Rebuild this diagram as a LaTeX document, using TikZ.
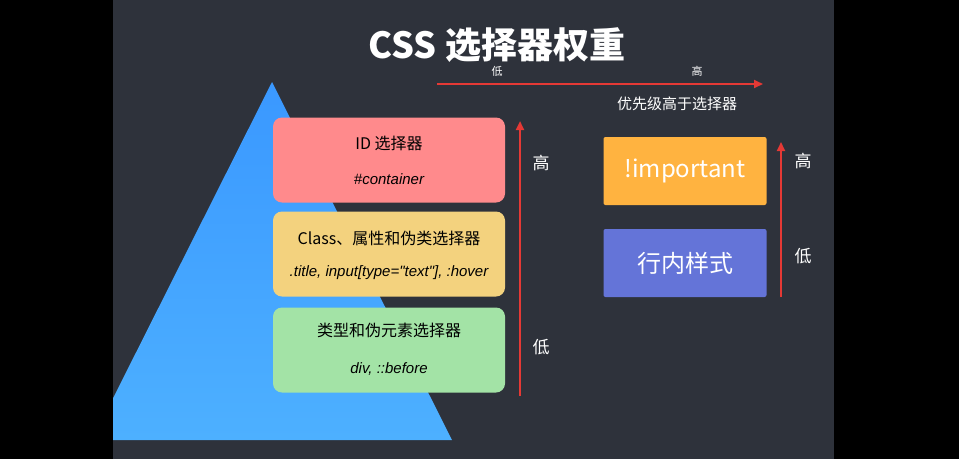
\documentclass[tikz,border=0pt]{standalone}
\usepackage{fontspec}
\setmainfont{Noto Sans CJK SC}
\newfontfamily\latinit{Liberation Sans}
\usetikzlibrary{positioning,arrows.meta}
\definecolor{panelbg}{HTML}{2E323B}
\definecolor{idred}{HTML}{FF8A8C}
\definecolor{clsyellow}{HTML}{F3D27E}
\definecolor{typegreen}{HTML}{A3E3A6}
\definecolor{imporange}{HTML}{FFB340}
\definecolor{inlineblue}{HTML}{6474D8}
\definecolor{arrowred}{HTML}{E53935}
\definecolor{pyrtop}{HTML}{3A98FF}
\definecolor{pyrbot}{HTML}{4DB0FF}
\tikzset{
  selbox/.style={rounded corners=9pt,minimum width=232pt,minimum height=85pt,inner sep=0pt},
  rulebox/.style={rounded corners=2pt,minimum width=163pt,minimum height=68pt,inner sep=0pt,text=white,font=\fontsize{24}{28}\selectfont},
  prio/.style={draw=arrowred,line width=2.2pt,-{Triangle[length=9pt,width=8pt]}},
  lbl/.style={text=white,font=\fontsize{17}{20}\selectfont},
}
\begin{document}
\begin{tikzpicture}[x=1pt,y=-1pt]
\fill[black] (0,0) rectangle (959,459);
\fill[panelbg] (113,0) rectangle (834,459);
% pyramid
\begin{scope}
\clip (113,0) rectangle (834,459);
\shade[top color=pyrtop,bottom color=pyrbot] (272,82) -- (452,440) -- (92,440) -- cycle;
\end{scope}
\node[text=white,font=\bfseries\fontsize{36}{40}\selectfont] (title) at (497,45) {CSS 选择器权重};
% selectors
\node[selbox,fill=idred] (idsel) at (389,160) {};
\node[font=\fontsize{16}{19}\selectfont] at (389,143) {ID 选择器};
\node[font=\latinit\itshape\fontsize{15}{18}\selectfont] at (389,179) {\#container};
\node[selbox,fill=clsyellow] (clssel) at (389,254) {};
\node[font=\fontsize{16}{19}\selectfont] at (389,238) {Class、属性和伪类选择器};
\node[font=\latinit\itshape\fontsize{15}{18}\selectfont] at (389,273) {.title, input[type="text"], :hover};
\node[selbox,fill=typegreen] (typesel) at (389,350) {};
\node[font=\fontsize{16}{19}\selectfont] at (389,330) {类型和伪元素选择器};
\node[font=\latinit\itshape\fontsize{15}{18}\selectfont] at (389,369) {div, ::before};
\coordinate (selbot) at (520,396);
\coordinate (seltop) at (520,121);
\draw[prio] (selbot) -- (seltop);
\node[lbl] (selhigh) at (541,163) {高};
\node[lbl] (sellow) at (541,347) {低};
% top arrow
\coordinate (tleft) at (437,84);
\coordinate (tright) at (763,84);
\draw[prio,line width=1.8pt] (tleft) -- (tright);
\node[text=white,font=\fontsize{11}{13}\selectfont] (toplow) at (497,71) {低};
\node[text=white,font=\fontsize{11}{13}\selectfont] (tophigh) at (697,71) {高};
\node[text=white,font=\fontsize{15}{18}\selectfont] (note) at (677,104) {优先级高于选择器};
% rules
\node[rulebox,fill=imporange] (imp) at (685,171) {!important};
\node[rulebox,fill=inlineblue] (inline) at (685,263) {行内样式};
\coordinate (rbot) at (781,297);
\coordinate (rtop) at (781,142);
\draw[prio,line width=1.8pt] (rbot) -- (rtop);
\node[lbl] (rhigh) at (803,161) {高};
\node[lbl] (rlow) at (803,256) {低};
\end{tikzpicture}
\end{document}
